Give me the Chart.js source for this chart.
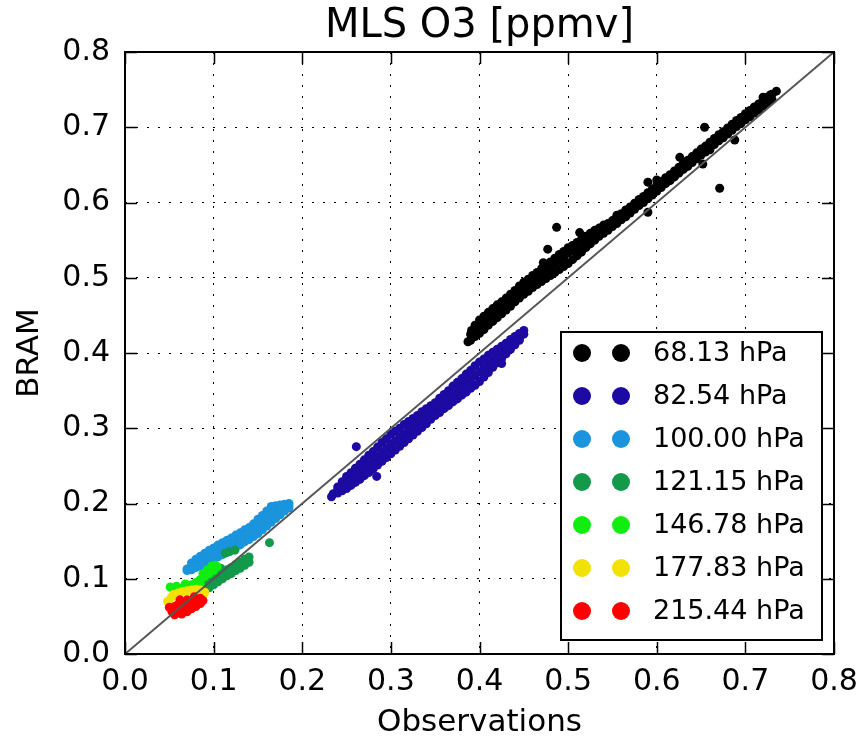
<!DOCTYPE html>
<html>
<head>
<meta charset="utf-8">
<script src="https://cdn.jsdelivr.net/npm/chart.js@4/dist/chart.umd.min.js"></script>
<style>
  html, body { margin: 0; padding: 0; background: #fff; }
  #wrap { width: 861px; height: 739px; }
</style>
</head>
<body>
<div id="wrap"><canvas id="c" width="861" height="739"></canvas></div>
<script>
// pressure levels (legend labels) and their colours
var levels = ['68.13 hPa', '82.54 hPa', '100.00 hPa', '121.15 hPa', '146.78 hPa', '177.83 hPa', '215.44 hPa'];
var colors = ['#000000', '#1c0aa2', '#1a94dc', '#12994a', '#10ee10', '#f2e204', '#ff0000'];
var tickVals = [0.0, 0.1, 0.2, 0.3, 0.4, 0.5, 0.6, 0.7, 0.8];

var p6813 = [
  // upper edge of the band
  [0.390,0.425],[0.395,0.431],[0.400,0.435],[0.405,0.440],[0.410,0.446],[0.415,0.450],[0.420,0.456],[0.425,0.460],
  [0.430,0.466],[0.435,0.470],[0.440,0.476],[0.445,0.482],[0.450,0.486],[0.455,0.491],[0.460,0.497],[0.465,0.500],
  [0.470,0.506],[0.475,0.509],[0.480,0.514],[0.485,0.519],[0.490,0.523],[0.495,0.527],[0.500,0.533],[0.505,0.536],
  [0.510,0.541],[0.515,0.546],[0.520,0.550],[0.525,0.554],[0.530,0.560],[0.535,0.563],[0.540,0.567],[0.545,0.572],
  [0.550,0.576],[0.555,0.580],[0.560,0.585],[0.565,0.590],[0.570,0.594],[0.575,0.599],[0.580,0.604],[0.585,0.608],
  [0.590,0.613],[0.595,0.618],[0.600,0.623],[0.605,0.628],[0.610,0.633],[0.615,0.637],[0.620,0.642],[0.625,0.647],
  [0.630,0.652],[0.635,0.656],[0.640,0.661],[0.645,0.666],[0.650,0.671],[0.655,0.675],[0.660,0.680],[0.665,0.685],
  [0.670,0.690],[0.675,0.694],[0.680,0.699],[0.685,0.704],[0.690,0.709],[0.695,0.713],[0.700,0.718],[0.705,0.722],
  [0.710,0.727],[0.715,0.731],[0.720,0.736],[0.725,0.740],[0.730,0.744],
  // lower edge of the band
  [0.390,0.417],[0.395,0.422],[0.400,0.426],[0.405,0.431],[0.410,0.437],[0.415,0.442],[0.420,0.447],[0.425,0.452],
  [0.430,0.457],[0.435,0.462],[0.440,0.468],[0.445,0.473],[0.450,0.478],[0.455,0.482],[0.460,0.487],[0.465,0.491],
  [0.470,0.495],[0.475,0.499],[0.480,0.503],[0.485,0.507],[0.490,0.511],[0.495,0.515],[0.500,0.519],[0.505,0.524],
  [0.510,0.529],[0.515,0.534],[0.520,0.540],[0.525,0.545],[0.530,0.550],[0.535,0.555],[0.540,0.559],[0.545,0.563],
  [0.550,0.568],[0.555,0.572],[0.560,0.577],[0.565,0.581],[0.570,0.586],[0.575,0.591],[0.580,0.596],[0.585,0.600],
  [0.590,0.605],[0.595,0.610],[0.600,0.615],[0.605,0.620],[0.610,0.625],[0.615,0.629],[0.620,0.634],[0.625,0.639],
  [0.630,0.644],[0.635,0.648],[0.640,0.653],[0.645,0.658],[0.650,0.663],[0.655,0.667],[0.660,0.672],[0.665,0.677],
  [0.670,0.682],[0.675,0.686],[0.680,0.691],[0.685,0.696],[0.690,0.701],[0.695,0.705],[0.700,0.710],[0.705,0.714],
  [0.710,0.719],[0.715,0.723],[0.720,0.728],[0.725,0.732],[0.730,0.737],
  // thicker top of the band at its lower end
  [0.395,0.437],[0.400,0.444],[0.405,0.449],[0.410,0.454],[0.415,0.459],[0.420,0.464],[0.425,0.468],[0.430,0.473],
  [0.435,0.478],[0.440,0.483],[0.445,0.489],[0.450,0.494],[0.455,0.498],[0.460,0.503],[0.465,0.507],[0.470,0.512],
  [0.475,0.517],[0.480,0.521],[0.485,0.526],[0.490,0.531],[0.495,0.535],[0.500,0.540],[0.505,0.543],[0.510,0.547],
  [0.515,0.551],[0.520,0.555],[0.525,0.559],[0.530,0.563],[0.535,0.566],[0.540,0.570],
  // ragged edge and scattered points
  [0.387,0.415],[0.391,0.430],[0.555,0.583],[0.60,0.630],[0.63,0.645],[0.66,0.670],[0.705,0.722],[0.72,0.740],
  [0.735,0.748],[0.654,0.700],[0.671,0.619],[0.688,0.683],[0.487,0.567],[0.477,0.538],[0.513,0.560],[0.472,0.520],
  [0.590,0.627],[0.590,0.587],[0.626,0.660],[0.652,0.651],[0.728,0.743]
];
var p8254 = [
  // upper edge of the band
  [0.240,0.222],[0.245,0.229],[0.250,0.236],[0.255,0.241],[0.260,0.247],[0.265,0.252],[0.270,0.258],[0.275,0.264],
  [0.280,0.269],[0.285,0.275],[0.290,0.281],[0.295,0.286],[0.300,0.292],[0.305,0.296],[0.310,0.300],[0.315,0.305],
  [0.320,0.309],[0.325,0.313],[0.330,0.317],[0.335,0.322],[0.340,0.326],[0.345,0.330],[0.350,0.334],[0.355,0.340],
  [0.360,0.345],[0.365,0.350],[0.370,0.356],[0.375,0.361],[0.380,0.366],[0.385,0.372],[0.390,0.377],[0.395,0.383],
  [0.400,0.388],[0.405,0.392],[0.410,0.397],[0.415,0.401],[0.420,0.405],[0.425,0.409],[0.430,0.413],[0.435,0.418],
  [0.440,0.422],[0.445,0.426],[0.450,0.430],
  // middle of the band
  [0.235,0.213],[0.240,0.218],[0.245,0.222],[0.250,0.228],[0.255,0.232],[0.260,0.237],[0.265,0.242],[0.270,0.247],
  [0.275,0.252],[0.280,0.257],[0.285,0.262],[0.290,0.268],[0.295,0.273],[0.300,0.279],[0.305,0.283],[0.310,0.288],
  [0.315,0.292],[0.320,0.297],[0.325,0.301],[0.330,0.306],[0.335,0.311],[0.340,0.315],[0.345,0.320],[0.350,0.325],
  [0.355,0.330],[0.360,0.335],[0.365,0.340],[0.370,0.345],[0.375,0.350],[0.380,0.355],[0.385,0.360],[0.390,0.365],
  [0.395,0.370],[0.400,0.375],[0.405,0.380],[0.410,0.385],[0.415,0.390],[0.420,0.395],[0.425,0.400],[0.430,0.405],
  [0.435,0.410],[0.440,0.415],[0.445,0.420],[0.450,0.425],
  // lower edge of the band
  [0.240,0.214],[0.245,0.217],[0.250,0.220],[0.255,0.224],[0.260,0.228],[0.265,0.232],[0.270,0.237],[0.275,0.241],
  [0.280,0.246],[0.285,0.251],[0.290,0.256],[0.295,0.261],[0.300,0.266],[0.305,0.271],[0.310,0.276],[0.315,0.281],
  [0.320,0.286],[0.325,0.291],[0.330,0.296],[0.335,0.301],[0.340,0.306],[0.345,0.312],[0.350,0.317],[0.355,0.321],
  [0.360,0.326],[0.365,0.330],[0.370,0.335],[0.375,0.339],[0.380,0.344],[0.385,0.348],[0.390,0.353],[0.395,0.357],
  [0.400,0.362],[0.405,0.368],[0.410,0.374],[0.415,0.381],[0.420,0.387],[0.425,0.393],[0.430,0.399],[0.435,0.405],
  [0.440,0.411],[0.445,0.417],
  // scattered points
  [0.261,0.2755],[0.425,0.386],[0.284,0.236],[0.391,0.355],[0.414,0.382],[0.233,0.209]
];
var p10000 = [
  // upper edge
  [0.075,0.121],[0.080,0.126],[0.085,0.130],[0.090,0.134],[0.095,0.138],[0.100,0.141],[0.105,0.145],[0.110,0.148],
  [0.115,0.151],[0.120,0.154],[0.125,0.158],[0.130,0.161],[0.135,0.165],[0.140,0.168],[0.145,0.173],[0.150,0.179],
  [0.155,0.184],[0.160,0.190],[0.165,0.196],[0.170,0.197],[0.175,0.198],[0.180,0.199],[0.185,0.200],
  // middle
  [0.070,0.113],[0.075,0.116],[0.080,0.120],[0.085,0.124],[0.090,0.127],[0.095,0.130],[0.100,0.134],[0.105,0.137],
  [0.110,0.140],[0.115,0.143],[0.120,0.146],[0.125,0.150],[0.130,0.153],[0.135,0.157],[0.140,0.160],[0.145,0.165],
  [0.150,0.170],[0.155,0.175],[0.160,0.180],[0.165,0.186],[0.170,0.189],[0.175,0.192],[0.180,0.195],[0.185,0.197],
  // lower edge
  [0.070,0.111],[0.075,0.112],[0.080,0.115],[0.085,0.117],[0.090,0.120],[0.095,0.123],[0.100,0.126],[0.105,0.129],
  [0.110,0.132],[0.115,0.135],[0.120,0.138],[0.125,0.142],[0.130,0.145],[0.135,0.149],[0.140,0.152],[0.145,0.156],
  [0.150,0.160],[0.155,0.165],[0.160,0.170],[0.165,0.175],[0.170,0.180],[0.175,0.185],[0.180,0.190],[0.185,0.194]
];
var p12115 = [
  [0.090,0.085],[0.095,0.088],[0.100,0.092],[0.105,0.096],[0.110,0.100],[0.115,0.104],[0.120,0.107],[0.125,0.111],
  [0.130,0.114],[0.135,0.118],[0.140,0.122],
  [0.090,0.093],[0.095,0.096],[0.100,0.100],[0.105,0.104],[0.110,0.108],[0.115,0.112],[0.120,0.115],[0.125,0.119],
  [0.130,0.122],[0.135,0.126],[0.140,0.129],
  [0.113,0.134],[0.118,0.136],[0.124,0.138],[0.163,0.148],[0.108,0.114],[0.095,0.100]
];
var p14678 = [
  [0.051,0.089],[0.055,0.085],[0.06,0.086],[0.065,0.088],[0.07,0.090],[0.075,0.092],[0.08,0.095],[0.085,0.099],
  [0.09,0.103],[0.095,0.107],[0.10,0.111],[0.104,0.116],[0.088,0.107],[0.098,0.117],[0.078,0.088],[0.085,0.093],
  [0.058,0.090],[0.068,0.093],[0.093,0.112],[0.102,0.118]
];
var p17783 = [
  [0.048,0.070],[0.052,0.075],[0.055,0.079],[0.06,0.081],[0.065,0.083],[0.07,0.084],[0.075,0.085],[0.08,0.086],
  [0.085,0.085],[0.09,0.082],[0.05,0.066],[0.088,0.078]
];
var p21544 = [
  [0.05,0.062],[0.053,0.056],[0.056,0.052],[0.056,0.063],[0.06,0.055],[0.06,0.066],[0.064,0.053],[0.065,0.060],
  [0.065,0.069],[0.07,0.056],[0.07,0.064],[0.07,0.072],[0.075,0.060],[0.075,0.068],[0.08,0.063],[0.08,0.071],
  [0.085,0.067],[0.085,0.074],[0.088,0.071],[0.062,0.072],[0.078,0.076]
];
var series = [p6813, p8254, p10000, p12115, p14678, p17783, p21544];
var oneToOne = [[0.0, 0.0], [0.8, 0.8]];

function toXY(arr) {
  return arr.map(function (p) { return { x: p[0], y: p[1] }; });
}

var datasets = series.map(function (s, i) {
  return {
    label: levels[i],
    data: toXY(s),
    backgroundColor: colors[i],
    borderWidth: 0,
    pointRadius: 4.5,
    order: levels.length - i
  };
});
datasets.push({
  label: '1:1',
  data: toXY(oneToOne),
  showLine: true,
  borderColor: '#555555',
  borderWidth: 2,
  pointRadius: 0,
  order: 0
});

// inward ticks, axes frame and the two-marker legend, drawn like the original
var framePlugin = {
  id: 'frame',
  afterDatasetsDraw: function (chart) {
    var ctx = chart.ctx, a = chart.chartArea;
    var xs = chart.scales.x, ys = chart.scales.y;
    var tl = 12;
    ctx.save();
    ctx.strokeStyle = '#000';
    ctx.lineWidth = 1.5;
    ctx.beginPath();
    tickVals.forEach(function (v) {
      var px = Math.round(xs.getPixelForValue(v)) + 0.5;
      ctx.moveTo(px, a.bottom); ctx.lineTo(px, a.bottom - tl);
      ctx.moveTo(px, a.top); ctx.lineTo(px, a.top + tl);
      var py = Math.round(ys.getPixelForValue(v)) + 0.5;
      ctx.moveTo(a.left, py); ctx.lineTo(a.left + tl, py);
      ctx.moveTo(a.right, py); ctx.lineTo(a.right - tl, py);
    });
    ctx.stroke();
    ctx.lineWidth = 2;
    ctx.strokeRect(a.left, a.top, a.right - a.left, a.bottom - a.top);

    // legend box in the lower right of the axes
    var bx = 561, by = 332, bw = 261, bh = 308, row = 43;
    ctx.fillStyle = '#fff';
    ctx.fillRect(bx, by, bw, bh);
    ctx.lineWidth = 2;
    ctx.strokeRect(bx, by, bw, bh);
    ctx.font = '27px "DejaVu Sans"';
    ctx.textBaseline = 'middle';
    ctx.textAlign = 'left';
    levels.forEach(function (lab, i) {
      var cy = by + 21 + i * row;
      ctx.fillStyle = colors[i];
      [582, 621].forEach(function (cx) {
        ctx.beginPath();
        ctx.arc(cx, cy, 9, 0, Math.PI * 2);
        ctx.fill();
      });
      ctx.fillStyle = '#000';
      ctx.fillText(lab, 653, cy + 1);
    });
    ctx.restore();
  }
};

Chart.defaults.font.family = '"DejaVu Sans"';
Chart.defaults.color = '#000';

new Chart(document.getElementById('c'), {
  type: 'scatter',
  data: { datasets: datasets },
  plugins: [framePlugin],
  options: {
    responsive: false,
    animation: false,
    events: [],
    layout: { padding: { left: 0, right: 27, top: 0, bottom: 0 } },
    plugins: {
      legend: { display: false },
      tooltip: { enabled: false },
      title: {
        display: true,
        fullSize: false,
        text: 'MLS O3 [ppmv]',
        font: { size: 40, weight: 'normal' },
        color: '#000',
        padding: { top: 3, bottom: 1 }
      }
    },
    scales: {
      x: {
        type: 'linear',
        min: 0, max: 0.8,
        afterFit: function (s) { s.height = 85; s.paddingLeft = 0; s.paddingRight = 0; },
        afterBuildTicks: function (s) { s.ticks = tickVals.map(function (v) { return { value: v }; }); },
        ticks: {
          font: { size: 30 },
          color: '#000',
          padding: 10,
          maxRotation: 0,
          callback: function (v) { return Number(v).toFixed(1); }
        },
        grid: { color: '#000', lineWidth: 1, drawTicks: false },
        border: { display: false, dash: [2, 9] },
        title: { display: true, text: 'Observations', font: { size: 31 }, color: '#000', padding: { top: 0, bottom: -3 } }
      },
      y: {
        type: 'linear',
        min: 0, max: 0.8,
        afterFit: function (s) { s.width = 125; s.paddingTop = 0; s.paddingBottom = 0; },
        afterBuildTicks: function (s) { s.ticks = tickVals.map(function (v) { return { value: v }; }); },
        ticks: {
          font: { size: 30 },
          color: '#000',
          padding: 15,
          callback: function (v) { return Number(v).toFixed(1); }
        },
        grid: { color: '#000', lineWidth: 1, drawTicks: false },
        border: { display: false, dash: [2, 9] },
        title: { display: true, text: 'BRAM', font: { size: 31 }, color: '#000', padding: { top: 11, bottom: 0 } }
      }
    }
  }
});
</script>
</body>
</html>
